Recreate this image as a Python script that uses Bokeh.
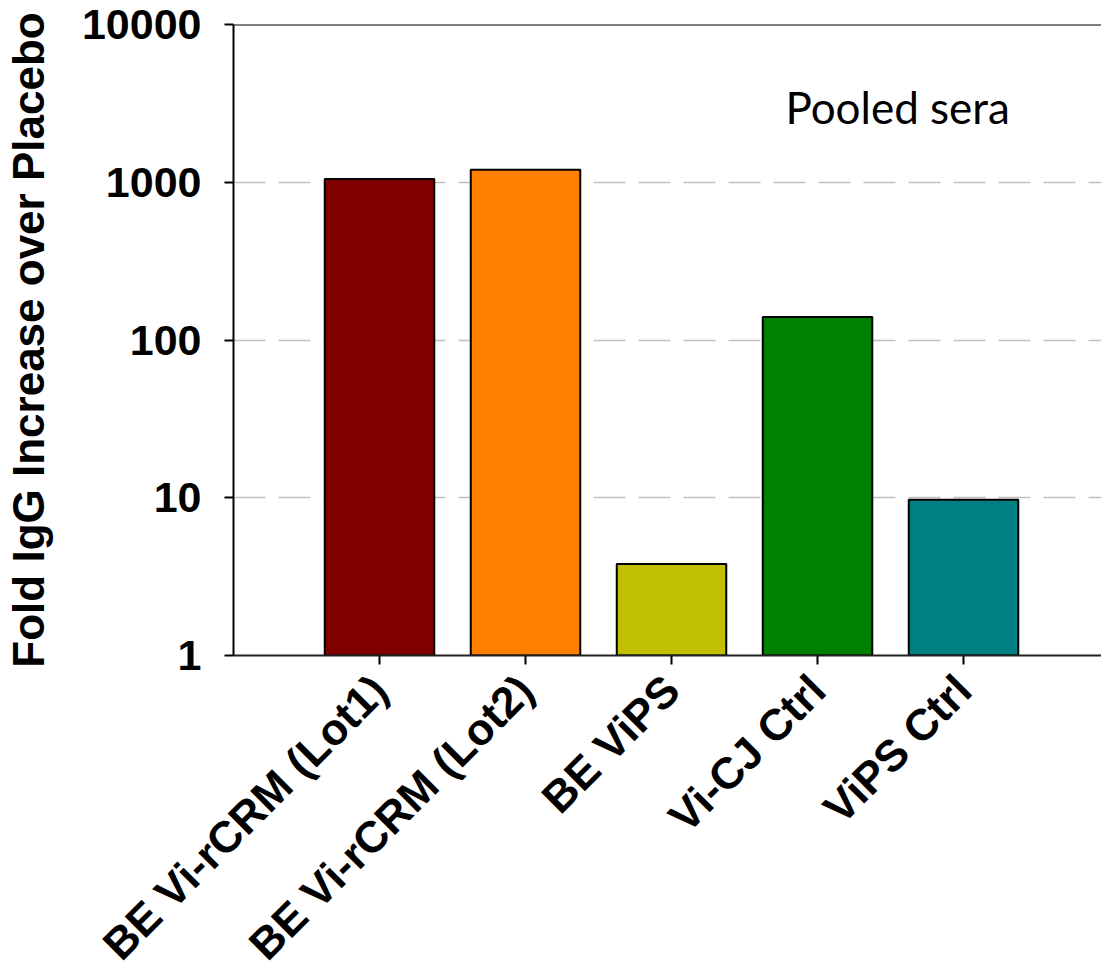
from bokeh.plotting import figure
from bokeh.models import FixedTicker, Label, Span, Range1d
from bokeh.embed import file_html
from bokeh.resources import INLINE

# Fold increase in anti-Vi IgG over placebo, pooled sera
categories = ["BE Vi-rCRM (Lot1)", "BE Vi-rCRM (Lot2)", "BE ViPS", "Vi-CJ Ctrl", "ViPS Ctrl"]
fold_increase = [1050, 1200, 3.8, 140, 9.7]
bar_colors = ["#800000", "#FF8000", "#C0C000", "#008000", "#008080"]
y_ticks = [1, 10, 100, 1000, 10000]
grid_ticks = [10, 100, 1000]

positions = list(range(1, len(categories) + 1))

FONT = "Liberation Sans"

p = figure(
    frame_width=868, frame_height=631,
    y_axis_type="log",
    x_range=Range1d(0, 5.945), y_range=Range1d(1, 10000),
    output_backend="svg", toolbar_location=None,
    min_border_left=233, min_border_right=0, min_border_top=24, min_border_bottom=0,
)
p.outline_line_color = None
p.background_fill_color = "white"
p.border_fill_color = "white"

p.vbar(x=positions, top=fold_increase, bottom=1, width=0.75,
       fill_color=bar_colors, line_color="black", line_width=2)

# top border line of the plot area
p.add_layout(Span(location=10000, dimension="width", line_color="black", line_width=2))

# y axis
ya = p.yaxis[0]
ya.ticker = FixedTicker(ticks=y_ticks)
ya.major_label_overrides = {t: str(t) for t in y_ticks}
ya.minor_tick_line_color = None
ya.major_tick_in = 0
ya.major_tick_out = 9
ya.major_tick_line_width = 2
ya.axis_line_width = 2
ya.axis_line_color = "black"
ya.major_label_text_font = FONT
ya.major_label_text_font_style = "bold"
ya.major_label_text_font_size = "43px"
ya.major_label_text_color = "black"
ya.major_label_standoff = 23
ya.axis_label = "Fold IgG Increase over Placebo"
ya.axis_label_text_font = FONT
ya.axis_label_text_font_style = "bold"
ya.axis_label_text_font_size = "44px"
ya.axis_label_text_color = "black"
ya.axis_label_standoff = 26

# x axis
xa = p.xaxis[0]
xa.ticker = FixedTicker(ticks=positions)
xa.major_label_overrides = {pos: name for pos, name in zip(positions, categories)}
xa.minor_tick_line_color = None
xa.major_tick_in = 0
xa.major_tick_out = 9
xa.major_tick_line_width = 2
xa.axis_line_width = 2
xa.axis_line_color = "#222222"
xa.major_label_orientation = 0.785398
xa.major_label_text_font = FONT
xa.major_label_text_font_style = "bold"
xa.major_label_text_font_size = "44px"
xa.major_label_text_color = "black"
xa.major_label_standoff = 18

# grid
p.xgrid.grid_line_color = None
p.ygrid.ticker = FixedTicker(ticks=grid_ticks)
p.ygrid.grid_line_color = "#c0c0c0"
p.ygrid.grid_line_width = 1.5
p.ygrid.grid_line_dash = "32 13"

p.add_layout(Label(x=3.78, y=3000, text="Pooled sera",
                   text_font="Lato", text_font_size="44px",
                   text_color="black", text_baseline="alphabetic"))

open("out.html", "w").write(file_html(p, INLINE))
